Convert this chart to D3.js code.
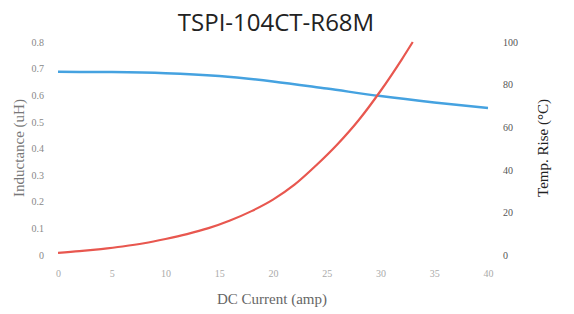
<!DOCTYPE html>
<html><head><meta charset="utf-8">
<script src="https://cdn.jsdelivr.net/npm/d3@7"></script>
<style>body{margin:0;background:#fff}</style>
</head><body>
<svg id="c" width="574" height="314"></svg>
<script>
const title = "TSPI-104CT-R68M";
const xTicks = [0,5,10,15,20,25,30,35,40];
const leftTicks = [0,0.1,0.2,0.3,0.4,0.5,0.6,0.7,0.8];
const rightTicks = [0,20,40,60,80,100];
const indCurrent = [0,5,10,15,20,25,30,35,40];
const inductance = [0.688,0.687,0.683,0.672,0.652,0.625,0.597,0.573,0.552];
const tempCurrent = [0,2,4,6,8,10,12,14,16,18,20,22,24,26,28,30,32,33];
const tempRise = [1,1.8,2.8,4,5.5,7.5,9.8,12.6,16.2,20.6,26,33,42,52,63.5,77,92,100];

const svg = d3.select("#c");
const x = d3.scaleLinear().domain([0,40]).range([58,488]);
const yL = d3.scaleLinear().domain([0,0.8]).range([255,42]);
const yR = d3.scaleLinear().domain([0,100]).range([255,42]);
const serif = "'Liberation Serif','DejaVu Serif',serif";

// left axis
const la = svg.append("g").attr("transform","translate(50,0)")
  .call(d3.axisLeft(yL).tickValues(leftTicks).tickSize(0).tickPadding(6).tickFormat(d=>d===0?"0":d3.format(".1f")(d)));
la.select(".domain").remove();
la.selectAll("text").attr("font-family",serif).attr("font-size",10).attr("fill","#888");

// right axis
const ra = svg.append("g").attr("transform","translate(498,0)")
  .call(d3.axisRight(yR).tickValues(rightTicks).tickSize(0).tickPadding(5));
ra.select(".domain").remove();
ra.selectAll("text").attr("font-family",serif).attr("font-size",10).attr("fill","#555");

// bottom axis
const ba = svg.append("g").attr("transform","translate(0,268)")
  .call(d3.axisBottom(x).tickValues(xTicks).tickSize(0).tickPadding(2));
ba.select(".domain").remove();
ba.selectAll("text").attr("font-family",serif).attr("font-size",10).attr("fill","#aaa");

// lines
const lineL = d3.line().x((d,i)=>x(indCurrent[i])).y(d=>yL(d)).curve(d3.curveMonotoneX);
svg.append("path").attr("d",lineL(inductance)).attr("fill","none")
  .attr("stroke","#45a2e0").attr("stroke-width",2.5);
const lineR = d3.line().x((d,i)=>x(tempCurrent[i])).y(d=>yR(d)).curve(d3.curveMonotoneX);
svg.append("path").attr("d",lineR(tempRise)).attr("fill","none")
  .attr("stroke","#e8574f").attr("stroke-width",2.2);

// titles
svg.append("text").attr("x",276).attr("y",31).attr("text-anchor","middle")
  .attr("font-family","'Open Sans','Noto Sans',sans-serif").attr("font-size",24).attr("fill","#222").text(title);
svg.append("text").attr("transform","translate(24,148) rotate(-90)").attr("text-anchor","middle")
  .attr("font-family",serif).attr("font-size",15).attr("fill","#777").text("Inductance (uH)");
svg.append("text").attr("transform","translate(548,148) rotate(-90)").attr("text-anchor","middle")
  .attr("font-family",serif).attr("font-size",15).attr("fill","#222").text("Temp. Rise (°C)");
svg.append("text").attr("x",272).attr("y",304).attr("text-anchor","middle")
  .attr("font-family",serif).attr("font-size",15).attr("fill","#666").text("DC Current (amp)");
</script>
</body></html>
